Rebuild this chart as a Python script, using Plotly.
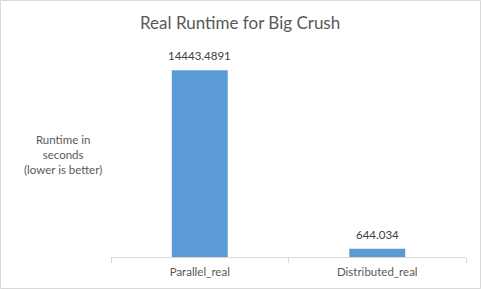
import plotly.graph_objects as go

categories = ["Parallel_real", "Distributed_real"]
runtimes = [14443.4891, 644.034]
labels = ["14443.4891", "644.034"]

W, H = 481, 289
L, R, T, B = 111, 15, 50, 32
pw, ph = W - L - R, H - T - B

def px_x(px):
    return (px - L) / pw

def px_y(py):
    return (H - B - py) / ph

fig = go.Figure(go.Bar(
    x=categories, y=runtimes,
    marker=dict(color="#5b9bd5", line=dict(width=0)),
))

value_labels = [
    dict(text=t, x=c, y=v, xref="x", yref="y", showarrow=False,
         xanchor="center", yanchor="bottom", yshift=6,
         font=dict(size=11.5, color="#404040"))
    for c, v, t in zip(categories, runtimes, labels)
]

fig.update_layout(
    width=W, height=H,
    margin=dict(l=L, r=R, t=T, b=B),
    paper_bgcolor="white", plot_bgcolor="white",
    font=dict(family="Lato, Open Sans, sans-serif", color="#595959"),
    bargap=0.685,
    showlegend=False,
    xaxis=dict(showline=True, linecolor="#d9d9d9", linewidth=1,
               ticks="outside", tickson="boundaries", ticklen=5, tickcolor="#d9d9d9",
               ticklabelstandoff=4,
               tickfont=dict(size=11.5, color="#595959"), fixedrange=True),
    yaxis=dict(range=[0, 16000], showgrid=False, showticklabels=False,
               zeroline=False, showline=False, fixedrange=True),
    annotations=value_labels + [
        dict(text="Real Runtime for Big Crush", xref="paper", yref="paper",
             x=px_x(240), y=px_y(22), xanchor="center", yanchor="middle",
             showarrow=False, font=dict(size=17, color="#595959")),
        dict(text="Runtime in<br>seconds<br>(lower is better)", xref="paper", yref="paper",
             x=px_x(63), y=px_y(154), xanchor="center", yanchor="middle",
             showarrow=False, align="center",
             font=dict(size=11.5, color="#595959")),
    ],
    shapes=[dict(type="rect", xref="paper", yref="paper",
                 x0=px_x(0.5), x1=px_x(480.5), y0=px_y(288.5), y1=px_y(0.5),
                 line=dict(color="#d9d9d9", width=1))],
)

fig.write_html("out.html")
